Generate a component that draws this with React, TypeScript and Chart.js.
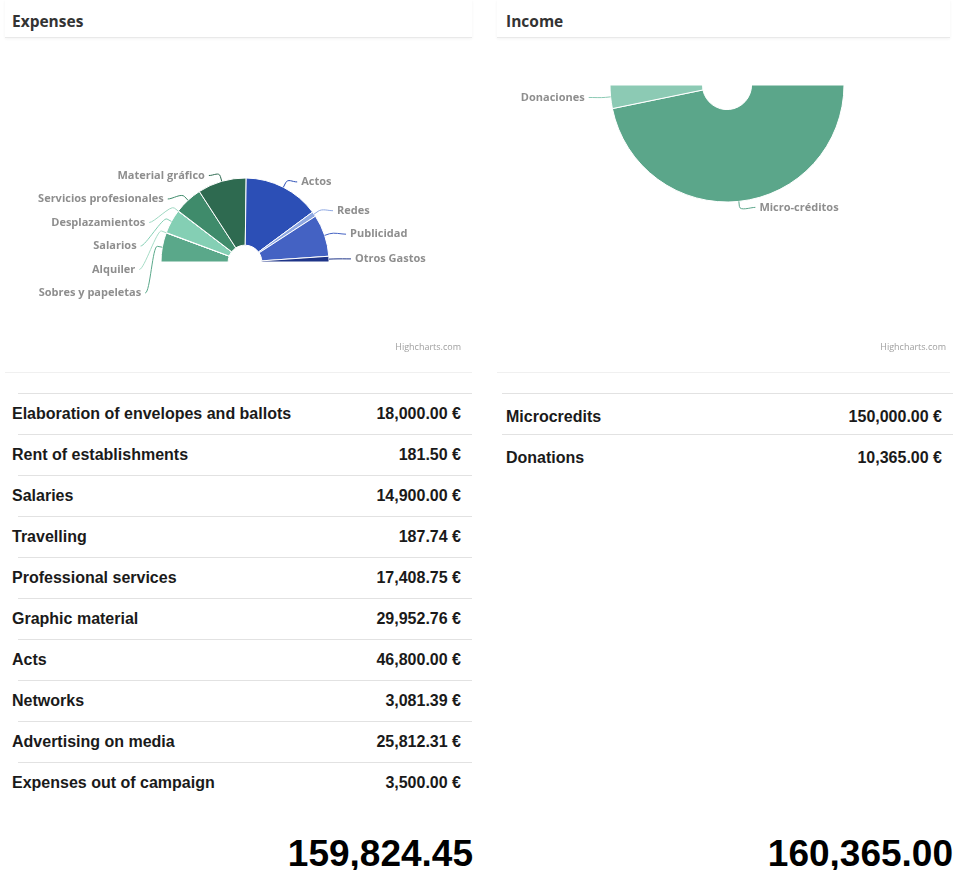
import React, { useEffect, useRef } from 'react';
import { Chart, registerables } from 'chart.js';

Chart.register(...registerables);

// ---- Data ----
const expenseTableNames = [
  'Elaboration of envelopes and ballots',
  'Rent of establishments',
  'Salaries',
  'Travelling',
  'Professional services',
  'Graphic material',
  'Acts',
  'Networks',
  'Advertising on media',
  'Expenses out of campaign',
];
const expenseChartLabels = [
  'Sobres y papeletas',
  'Alquiler',
  'Salarios',
  'Desplazamientos',
  'Servicios profesionales',
  'Material gráfico',
  'Actos',
  'Redes',
  'Publicidad',
  'Otros Gastos',
];
const expenseValues = [18000, 181.5, 14900, 187.74, 17408.75, 29952.76, 46800, 3081.39, 25812.31, 3500];
const expenseColors = ['#5aa88a', '#a6dcc6', '#84cfb4', '#9fd8c2', '#3f8b6b', '#2e6a50', '#2c4fb6', '#8fa8e2', '#4462c3', '#1e3488'];

const incomeTableNames = ['Microcredits', 'Donations'];
const incomeChartLabels = ['Micro-créditos', 'Donaciones'];
const incomeValues = [150000, 10365];
const incomeColors = ['#5ba68a', '#8ccab4'];

function fmt(n: number): string {
  const [i, d] = n.toFixed(2).split('.');
  return i.replace(/\B(?=(\d{3})+(?!\d))/g, ',') + '.' + d;
}

type LabelCfg = { distY: number; distX: number; distEdge: number; spacing: number; font: string; color: string };

function makeLabelPlugin(cfg: LabelCfg) {
  return {
    id: 'pieLabels',
    afterDatasetsDraw(chart: any) {
      const meta = chart.getDatasetMeta(0);
      const ds = chart.data.datasets[0];
      const labels = chart.data.labels as string[];
      const items = meta.data.map((arc: any, i: number) => {
        const p = arc.getProps(['x', 'y', 'startAngle', 'endAngle', 'outerRadius'], true);
        const mid = (p.startAngle + p.endAngle) / 2;
        const left = Math.cos(mid) < 0;
        const ny = p.y + (p.outerRadius + cfg.distY) * Math.sin(mid);
        return { ...p, mid, left, ny, fy: ny, color: ds.backgroundColor[i], text: labels[i] };
      });
      [true, false].forEach((side) => {
        const g = items.filter((it: any) => it.left === side).sort((a: any, b: any) => a.ny - b.ny);
        let prev = -1e9;
        g.forEach((it: any) => {
          it.fy = Math.max(it.ny, prev + cfg.spacing);
          prev = it.fy;
        });
      });
      const ctx = chart.ctx as CanvasRenderingContext2D;
      ctx.save();
      items.forEach((it: any) => {
        const r = it.outerRadius;
        const a = r + cfg.distX;
        const b = r + cfg.distEdge;
        const dy = it.fy - it.y;
        const k = Math.sqrt(Math.max(0, 1 - (dy / b) * (dy / b)));
        const sgn = it.left ? -1 : 1;
        const ax = it.x + sgn * a * k;
        const tx = it.x + r * Math.cos(it.mid);
        const ty = it.y + r * Math.sin(it.mid);
        const bx = it.x + (r + 5) * Math.cos(it.mid);
        const by = it.y + (r + 5) * Math.sin(it.mid);
        ctx.beginPath();
        ctx.moveTo(ax, it.fy);
        ctx.bezierCurveTo(ax - sgn * 5, it.fy, 2 * bx - tx, 2 * by - ty, bx, by);
        ctx.lineTo(tx, ty);
        ctx.strokeStyle = it.color;
        ctx.lineWidth = 1;
        ctx.stroke();
        ctx.font = cfg.font;
        ctx.fillStyle = cfg.color;
        ctx.textAlign = it.left ? 'right' : 'left';
        ctx.textBaseline = 'middle';
        ctx.fillText(it.text, ax + sgn * 4, it.fy);
      });
      ctx.restore();
    },
  };
}

type PieProps = {
  labels: string[];
  values: number[];
  colors: string[];
  rotation: number;
  radius: number;
  cutout: string;
  padding: { left: number; right: number; top: number; bottom: number };
  style: React.CSSProperties;
};

function SemiPie(props: PieProps) {
  const ref = useRef<HTMLCanvasElement | null>(null);
  useEffect(() => {
    if (!ref.current) return;
    const chart = new Chart(ref.current, {
      type: 'doughnut',
      data: {
        labels: props.labels,
        datasets: [
          {
            data: props.values,
            backgroundColor: props.colors,
            borderColor: '#ffffff',
            borderWidth: 1,
          },
        ],
      },
      options: {
        animation: false,
        responsive: true,
        maintainAspectRatio: false,
        rotation: props.rotation,
        circumference: 180,
        cutout: props.cutout,
        radius: props.radius,
        layout: { padding: props.padding },
        events: [],
        plugins: { legend: { display: false }, tooltip: { enabled: false } },
      } as any,
      plugins: [
        makeLabelPlugin({
          distY: 6,
          distX: 22,
          distEdge: 8,
          spacing: 23.5,
          font: 'bold 11px "Open Sans"',
          color: '#8e8e8e',
        }),
      ],
    });
    return () => chart.destroy();
  }, []);
  return (
    <div style={{ position: 'absolute', borderBottom: '1px solid #f0f0f0', ...props.style }}>
      <canvas ref={ref} />
    </div>
  );
}

const headerStyle = (left: number, width: number, pad: number): React.CSSProperties => ({
  position: 'absolute',
  left,
  top: 0,
  width,
  height: 38,
  boxSizing: 'border-box',
  paddingTop: 7,
  paddingLeft: pad,
  fontFamily: '"Open Sans"',
  fontWeight: 700,
  fontSize: 15.5,
  lineHeight: '29px',
  borderBottom: '1px solid #e9e9e9',
  boxShadow: '0 1px 3px rgba(0,0,0,0.05)',
  color: '#333',
});

function Table(props: {
  names: string[];
  values: number[];
  textLeft: number;
  valueRight: number;
  lineLeft: number;
  lineRight: number;
  textShift: number;
}) {
  const rowH = 41;
  return (
    <>
      {props.names.map((n, i) => (
        <React.Fragment key={n}>
          <div
            style={{
              position: 'absolute',
              left: props.lineLeft,
              width: props.lineRight - props.lineLeft,
              top: 393 + i * rowH,
              height: 0,
              borderTop: '1px solid #e2e2e2',
            }}
          />
          <div
            style={{
              position: 'absolute',
              left: props.textLeft,
              width: props.valueRight - props.textLeft,
              top: 393 + i * rowH + props.textShift,
              height: rowH,
              display: 'flex',
              justifyContent: 'space-between',
              fontFamily: '"Liberation Sans", Arial, sans-serif',
              fontWeight: 700,
              fontSize: 16,
              lineHeight: rowH + 'px',
              color: '#1a1a1a',
              whiteSpace: 'nowrap',
            }}
          >
            <span>{n}</span>
            <span>{fmt(props.values[i])} €</span>
          </div>
        </React.Fragment>
      ))}
    </>
  );
}

const creditStyle = (right: number): React.CSSProperties => ({
  position: 'absolute',
  top: 340,
  right,
  fontFamily: '"Open Sans"',
  fontSize: 9,
  color: '#a0a0a0',
});

const totalStyle = (right: number): React.CSSProperties => ({
  position: 'absolute',
  top: 835,
  right,
  fontFamily: '"Liberation Sans", Arial, sans-serif',
  fontWeight: 700,
  fontSize: 37,
  lineHeight: '37px',
  color: '#000',
  whiteSpace: 'nowrap',
});

export default function App() {
  const expTotal = expenseValues.reduce((a, b) => a + b, 0);
  const incTotal = incomeValues.reduce((a, b) => a + b, 0);
  return (
    <div
      style={{
        position: 'absolute',
        left: 0,
        top: 0,
        width: 953,
        height: 870,
        overflow: 'hidden',
        background: '#fff',
      }}
    >
      <div style={headerStyle(5, 467, 7)}>Expenses</div>
      <div style={headerStyle(497, 453, 9)}>Income</div>

      <SemiPie
        labels={expenseChartLabels}
        values={expenseValues}
        colors={expenseColors}
        rotation={-90}
        radius={84}
        cutout="20%"
        padding={{ left: 13, right: 0, top: 28, bottom: 0 }}
        style={{ left: 5, top: 40, width: 467, height: 332 }}
      />
      <SemiPie
        labels={incomeChartLabels}
        values={incomeValues}
        colors={incomeColors}
        rotation={90}
        radius={117}
        cutout="21%"
        padding={{ left: 7, right: 0, top: 0, bottom: 125 }}
        style={{ left: 497, top: 40, width: 453, height: 332 }}
      />
      <div style={creditStyle(953 - 461)}>Highcharts.com</div>
      <div style={creditStyle(953 - 946)}>Highcharts.com</div>

      <Table
        names={expenseTableNames}
        values={expenseValues}
        textLeft={12}
        valueRight={461}
        lineLeft={18}
        lineRight={472}
        textShift={0}
      />
      <Table
        names={incomeTableNames}
        values={incomeValues}
        textLeft={506}
        valueRight={942}
        lineLeft={502}
        lineRight={953}
        textShift={3}
      />

      <div style={totalStyle(953 - 473)}>{fmt(expTotal)}</div>
      <div style={totalStyle(0)}>{fmt(incTotal)}</div>
    </div>
  );
}
